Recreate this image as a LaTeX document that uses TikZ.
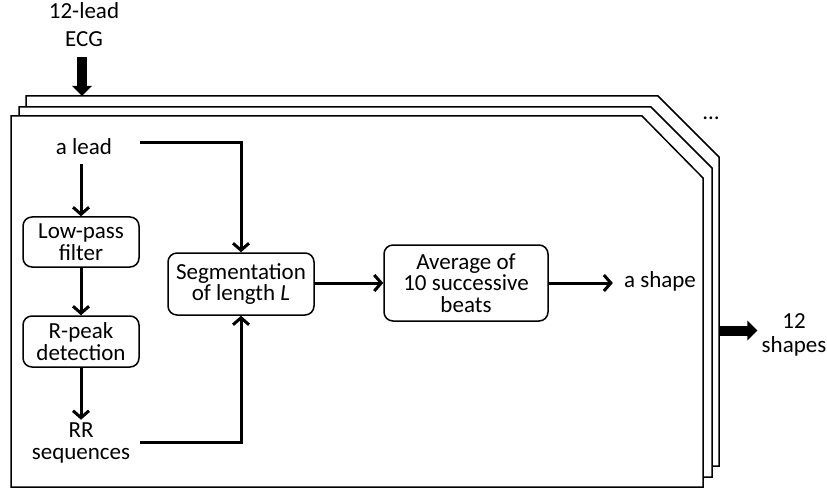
\documentclass[tikz,border=0pt]{standalone}
\usepackage{fontspec}
\setmainfont{Carlito}
\usetikzlibrary{arrows.meta}
\begin{document}
\begin{tikzpicture}[x=1pt,y=-1pt,
  frame/.style={draw=black,line width=1.5pt,fill=white,line join=miter},
  proc/.style={draw,line width=1.5pt,rounded corners=9pt,align=center,inner sep=0pt,font=\fontsize{23}{21.7}\selectfont},
  lbl/.style={align=center,font=\fontsize{23}{21.7}\selectfont,inner sep=3pt},
  conn/.style={line width=3pt,-{Straight Barb[length=7pt,width=16pt]}},
  big/.style={line width=10pt,-{Triangle[length=10pt,width=19pt]}}
]
\useasboundingbox (0,0) rectangle (827,489);
% stacked frames
\draw[frame] (26,96) -- (658,96) -- (719,157) -- (719,466) -- (26,466) -- cycle;
\draw[frame] (19,107) -- (651,107) -- (712,168) -- (712,477) -- (19,477) -- cycle;
\draw[frame] (11,116) -- (642,116) -- (703,178) -- (703,487) -- (11,487) -- cycle;

% texts and boxes
\node[lbl,font=\fontsize{23}{28}\selectfont] (ecg) at (84,25) {12-lead\\ECG};
\coordinate (ecgA) at (82,57);
\coordinate (ecgB) at (82,96);
\node[lbl] (alead) at (84,147) {a lead};
\node[proc,minimum width=116pt,minimum height=50pt] (lp) at (81,242) {Low-pass\\filter};
\node[proc,minimum width=116pt,minimum height=51pt] (rp) at (81,341.5) {R-peak\\detection};
\node[lbl] (rr) at (81,443) {RR\\sequences};
\node[proc,minimum width=146pt,minimum height=62pt] (seg) at (241,284) {Segmentation\\of length \textit{L}};
\node[proc,minimum width=164pt,minimum height=76pt] (avg) at (466,283) {Average of\\10 successive\\beats};
\node[lbl,inner xsep=11pt] (shape) at (660,281) {a shape};
\node[lbl] (dots) at (711,118) {…};
\node[lbl,font=\fontsize{23}{24}\selectfont] (out) at (794,335) {12\\shapes};
\coordinate (outA) at (719,330.5);

% connectors
\draw[big] (ecgA) -- (ecgB);
\draw[conn,shorten <=6pt] (alead.south -| lp.north) -- (lp.north);
\draw[conn] (lp) -- (rp);
\draw[conn] (rp.south) -- (rp.south |- rr.north);
\draw[conn] ([xshift=25pt,yshift=4pt]alead.east) -| (seg.north);
\draw[conn] ([xshift=7pt,yshift=1pt]rr.east) -| (seg.south);
\draw[conn] (seg.east |- avg.west) -- (avg.west);
\draw[conn] (avg.east) -- (avg.east -| shape.west);
\draw[big] (outA) -- ([xshift=-1pt]outA -| out.west);
\end{tikzpicture}
\end{document}
